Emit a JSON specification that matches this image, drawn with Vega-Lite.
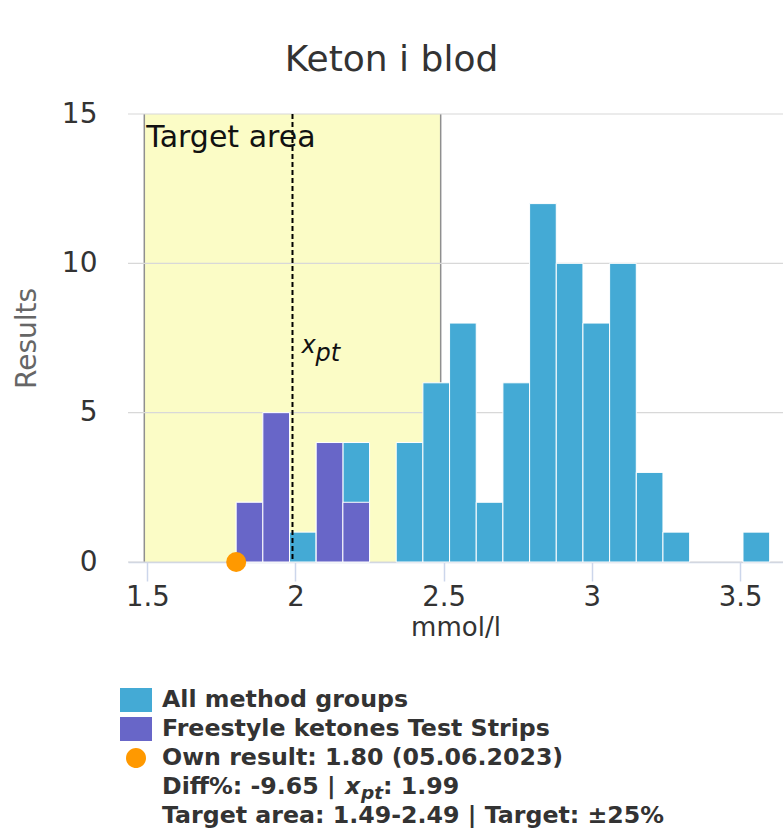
{
  "$schema": "https://vega.github.io/schema/vega-lite/v6.json",
  "background": "white",
  "padding": {"left": 13, "top": 42, "right": 0, "bottom": 0},
  "config": {"view": {"stroke": null}, "font": "DejaVu Sans"},
  "title": {
    "text": "Keton i blod",
    "font": "DejaVu Sans",
    "fontSize": 36,
    "fontWeight": "normal",
    "color": "#333333",
    "anchor": "middle",
    "frame": "bounds",
    "offset": 21,
    "dx": -7
  },
  "spacing": 138,
  "bounds": "flush",
  "datasets": {
    "counts": [
      {"lo": 1.80, "hi": 1.89, "group": "all", "n": 2},
      {"lo": 1.89, "hi": 1.98, "group": "all", "n": 5},
      {"lo": 1.98, "hi": 2.07, "group": "all", "n": 1},
      {"lo": 2.07, "hi": 2.16, "group": "all", "n": 4},
      {"lo": 2.16, "hi": 2.25, "group": "all", "n": 4},
      {"lo": 2.34, "hi": 2.43, "group": "all", "n": 4},
      {"lo": 2.43, "hi": 2.52, "group": "all", "n": 6},
      {"lo": 2.52, "hi": 2.61, "group": "all", "n": 8},
      {"lo": 2.61, "hi": 2.70, "group": "all", "n": 2},
      {"lo": 2.70, "hi": 2.79, "group": "all", "n": 6},
      {"lo": 2.79, "hi": 2.88, "group": "all", "n": 12},
      {"lo": 2.88, "hi": 2.97, "group": "all", "n": 10},
      {"lo": 2.97, "hi": 3.06, "group": "all", "n": 8},
      {"lo": 3.06, "hi": 3.15, "group": "all", "n": 10},
      {"lo": 3.15, "hi": 3.24, "group": "all", "n": 3},
      {"lo": 3.24, "hi": 3.33, "group": "all", "n": 1},
      {"lo": 3.51, "hi": 3.60, "group": "all", "n": 1},
      {"lo": 1.80, "hi": 1.89, "group": "freestyle", "n": 2},
      {"lo": 1.89, "hi": 1.98, "group": "freestyle", "n": 5},
      {"lo": 2.07, "hi": 2.16, "group": "freestyle", "n": 4},
      {"lo": 2.16, "hi": 2.25, "group": "freestyle", "n": 2}
    ],
    "target": [{"lo": 1.49, "hi": 2.49, "label": "Target area"}],
    "grid": [{"y": 0}, {"y": 5}, {"y": 10}, {"y": 15}],
    "xpt": [{"value": 1.99, "sym": "x", "sub": "pt"}],
    "own": [{"value": 1.80, "date": "05.06.2023"}],
    "legend": [
      {"line": 1, "series": "All method groups", "text": "All method groups"},
      {"line": 2, "series": "Freestyle ketones Test Strips", "text": "Freestyle ketones Test Strips"},
      {"line": 3, "series": "Own result", "text": "Own result: 1.80 (05.06.2023)"},
      {"line": 4, "text": "Diff%: -9.65 | "},
      {"line": 5, "text": "Target area: 1.49-2.49 | Target: ±25%"}
    ],
    "legendXpt": [{"line": 4, "sym": "x", "sub": "pt", "rest": ": 1.99"}]
  },
  "vconcat": [
    {
      "width": 655,
      "height": 448,
      "layer": [
        {
          "data": {"name": "target"},
          "mark": {"type": "rect", "color": "#fbfcc6"},
          "encoding": {
            "x": {"field": "lo", "type": "quantitative", "scale": {"domain": [1.435, 3.645], "nice": false, "zero": false, "padding": 0}},
            "x2": {"field": "hi"}
          }
        },
        {
          "data": {"name": "target"},
          "mark": {"type": "rule", "color": "#8f8f8f", "strokeWidth": 1.5},
          "encoding": {
            "x": {"field": "lo", "type": "quantitative", "scale": {"domain": [1.435, 3.645], "nice": false, "zero": false, "padding": 0}}
          }
        },
        {
          "data": {"name": "target"},
          "mark": {"type": "rule", "color": "#8f8f8f", "strokeWidth": 1.5},
          "encoding": {
            "x": {"field": "hi", "type": "quantitative", "scale": {"domain": [1.435, 3.645], "nice": false, "zero": false, "padding": 0}}
          }
        },
        {
          "data": {"name": "grid"},
          "mark": {"type": "rule", "color": "#d8d8d8", "strokeWidth": 1.2},
          "encoding": {
            "y": {"field": "y", "type": "quantitative", "scale": {"domain": [0, 15], "nice": false, "padding": 0}}
          }
        },
        {
          "data": {"name": "counts"},
          "transform": [{"filter": "datum.group === 'all'"}],
          "mark": {"type": "bar", "orient": "vertical", "color": "#44aad5", "stroke": "#ffffff", "strokeWidth": 1},
          "encoding": {
            "x": {
              "field": "lo",
              "type": "quantitative",
              "scale": {"domain": [1.435, 3.645], "nice": false, "zero": false, "padding": 0},
              "axis": {
                "title": "mmol/l",
                "values": [1.5, 2, 2.5, 3, 3.5],
                "format": "~g",
                "grid": false,
                "domainColor": "#ccd6eb",
                "domainWidth": 1.5,
                "tickColor": "#ccd6eb",
                "tickWidth": 1.5,
                "tickSize": 19,
                "labelFontSize": 27.5,
                "labelColor": "#333333",
                "labelPadding": 2,
                "labelFlush": false,
                "labelOverlap": false,
                "titleFontSize": 26,
                "titleFontWeight": "normal",
                "titleColor": "#333333",
                "titlePadding": 4
              }
            },
            "x2": {"field": "hi"},
            "y": {
              "field": "n",
              "type": "quantitative",
              "scale": {"domain": [0, 15], "nice": false, "padding": 0},
              "axis": {
                "title": "Results",
                "values": [0, 5, 10, 15],
                "grid": false,
                "ticks": false,
                "tickSize": 0,
                "domain": false,
                "labelFontSize": 28,
                "labelColor": "#333333",
                "labelPadding": 31,
                "titleFontSize": 28,
                "titleFontWeight": "normal",
                "titleColor": "#666666",
                "titlePadding": 20
              }
            },
            "y2": {"datum": 0}
          }
        },
        {
          "data": {"name": "counts"},
          "transform": [{"filter": "datum.group === 'freestyle'"}],
          "mark": {"type": "bar", "orient": "vertical", "color": "#6866c8", "stroke": "#ffffff", "strokeWidth": 1},
          "encoding": {
            "x": {"field": "lo", "type": "quantitative", "scale": {"domain": [1.435, 3.645], "nice": false, "zero": false, "padding": 0}},
            "x2": {"field": "hi"},
            "y": {"field": "n", "type": "quantitative", "scale": {"domain": [0, 15], "nice": false, "padding": 0}},
            "y2": {"datum": 0}
          }
        },
        {
          "data": {"name": "xpt"},
          "mark": {"type": "rule", "color": "#000000", "strokeWidth": 2, "strokeDash": [5, 3]},
          "encoding": {
            "x": {"field": "value", "type": "quantitative", "scale": {"domain": [1.435, 3.645], "nice": false, "zero": false, "padding": 0}}
          }
        },
        {
          "data": {"name": "target"},
          "mark": {"type": "text", "align": "left", "baseline": "alphabetic", "dx": 2, "dy": 33, "fontSize": 30, "color": "#111111"},
          "encoding": {
            "x": {"field": "lo", "type": "quantitative", "scale": {"domain": [1.435, 3.645], "nice": false, "zero": false, "padding": 0}},
            "y": {"datum": 15, "type": "quantitative", "scale": {"domain": [0, 15], "nice": false, "padding": 0}},
            "text": {"field": "label"}
          }
        },
        {
          "data": {"name": "xpt"},
          "mark": {"type": "text", "align": "left", "baseline": "alphabetic", "dx": 9, "fontSize": 24, "fontStyle": "italic", "color": "#111111"},
          "encoding": {
            "x": {"field": "value", "type": "quantitative", "scale": {"domain": [1.435, 3.645], "nice": false, "zero": false, "padding": 0}},
            "y": {"datum": 7, "type": "quantitative", "scale": {"domain": [0, 15], "nice": false, "padding": 0}},
            "text": {"field": "sym"}
          }
        },
        {
          "data": {"name": "xpt"},
          "mark": {"type": "text", "align": "left", "baseline": "alphabetic", "dx": 23, "dy": 8, "fontSize": 24, "fontStyle": "italic", "color": "#111111"},
          "encoding": {
            "x": {"field": "value", "type": "quantitative", "scale": {"domain": [1.435, 3.645], "nice": false, "zero": false, "padding": 0}},
            "y": {"datum": 7, "type": "quantitative", "scale": {"domain": [0, 15], "nice": false, "padding": 0}},
            "text": {"field": "sub"}
          }
        },
        {
          "data": {"name": "own"},
          "mark": {"type": "point", "filled": true, "opacity": 1, "size": 400, "color": "#ff9900"},
          "encoding": {
            "x": {"field": "value", "type": "quantitative", "scale": {"domain": [1.435, 3.645], "nice": false, "zero": false, "padding": 0}},
            "y": {"datum": 0, "type": "quantitative", "scale": {"domain": [0, 15], "nice": false, "padding": 0}}
          }
        }
      ]
    },
    {
      "width": 500,
      "height": 116,
      "layer": [
        {
          "data": {"name": "legend"},
          "transform": [{"filter": "isValid(datum.series)"}],
          "mark": {"type": "point", "filled": true, "opacity": 1, "size": 1024, "strokeWidth": 0},
          "encoding": {
            "x": {"datum": "symbol", "type": "nominal", "scale": {"type": "point", "domain": ["symbol", "label"], "range": [8, 34], "padding": 0}, "axis": null},
            "y": {"field": "line", "type": "ordinal", "scale": {"type": "point", "domain": [1, 2, 3, 4, 5], "padding": 0}, "axis": null},
            "color": {
              "field": "series",
              "type": "nominal",
              "scale": {"domain": ["All method groups", "Freestyle ketones Test Strips", "Own result"], "range": ["#44aad5", "#6866c8", "#ff9900"]},
              "legend": null
            },
            "shape": {
              "field": "series",
              "type": "nominal",
              "scale": {
                "domain": ["All method groups", "Freestyle ketones Test Strips", "Own result"],
                "range": ["M-1,-0.75H1V0.75H-1Z", "M-1,-0.75H1V0.75H-1Z", "M0.625,0A0.625,0.625 0 1,1 -0.625,0A0.625,0.625 0 1,1 0.625,0Z"]
              },
              "legend": null
            }
          }
        },
        {
          "data": {"name": "legend"},
          "mark": {"type": "text", "align": "left", "baseline": "middle", "fontSize": 23.7, "fontWeight": "bold", "color": "#333333"},
          "encoding": {
            "x": {"datum": "label", "type": "nominal", "scale": {"type": "point", "domain": ["symbol", "label"], "range": [8, 34], "padding": 0}, "axis": null},
            "y": {"field": "line", "type": "ordinal", "scale": {"type": "point", "domain": [1, 2, 3, 4, 5], "padding": 0}, "axis": null},
            "text": {"field": "text"}
          }
        },
        {
          "data": {"name": "legendXpt"},
          "mark": {"type": "text", "align": "left", "baseline": "middle", "dx": 183, "fontSize": 23.7, "fontWeight": "bold", "fontStyle": "italic", "color": "#333333"},
          "encoding": {
            "x": {"datum": "label", "type": "nominal", "scale": {"type": "point", "domain": ["symbol", "label"], "range": [8, 34], "padding": 0}, "axis": null},
            "y": {"field": "line", "type": "ordinal", "scale": {"type": "point", "domain": [1, 2, 3, 4, 5], "padding": 0}, "axis": null},
            "text": {"field": "sym"}
          }
        },
        {
          "data": {"name": "legendXpt"},
          "mark": {"type": "text", "align": "left", "baseline": "middle", "dx": 199, "dy": 6, "fontSize": 18.5, "fontWeight": "bold", "fontStyle": "italic", "color": "#333333"},
          "encoding": {
            "x": {"datum": "label", "type": "nominal", "scale": {"type": "point", "domain": ["symbol", "label"], "range": [8, 34], "padding": 0}, "axis": null},
            "y": {"field": "line", "type": "ordinal", "scale": {"type": "point", "domain": [1, 2, 3, 4, 5], "padding": 0}, "axis": null},
            "text": {"field": "sub"}
          }
        },
        {
          "data": {"name": "legendXpt"},
          "mark": {"type": "text", "align": "left", "baseline": "middle", "dx": 221, "fontSize": 23.7, "fontWeight": "bold", "color": "#333333"},
          "encoding": {
            "x": {"datum": "label", "type": "nominal", "scale": {"type": "point", "domain": ["symbol", "label"], "range": [8, 34], "padding": 0}, "axis": null},
            "y": {"field": "line", "type": "ordinal", "scale": {"type": "point", "domain": [1, 2, 3, 4, 5], "padding": 0}, "axis": null},
            "text": {"field": "rest"}
          }
        }
      ]
    }
  ]
}
